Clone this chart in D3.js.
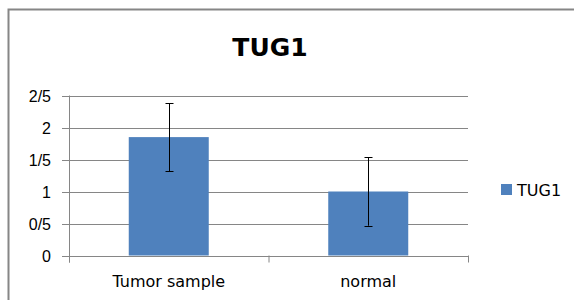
<!DOCTYPE html>
<html>
<head>
<meta charset="utf-8">
<script src="https://cdn.jsdelivr.net/npm/d3@7"></script>
<style>
	body { margin: 0; background: #fff; }
	svg { display: block; font-family: "DejaVu Sans", sans-serif; }
</style>
</head>
<body>
<div id="chart"></div>
<script>
// data
const categories = ["Tumor sample", "normal"];
const values = [1.85, 1.0];
const errors = [0.53, 0.535];
const tickValues = [0, 0.5, 1, 1.5, 2, 2.5];
const tickLabels = ["0", "0/5", "1", "1/5", "2", "2/5"];
const seriesName = "TUG1";

const width = 574, height = 300;
const plot = { left: 69, right: 468, top: 95.5, bottom: 255.5 };
const barColor = "#4f81bd";

const svg = d3.select("#chart").append("svg")
	.attr("width", width).attr("height", height);

// outer frame (runs off the right and bottom)
svg.append("rect")
	.attr("x", 8.5).attr("y", 9.5)
	.attr("width", 700).attr("height", 400)
	.attr("fill", "none").attr("stroke", "#868686").attr("stroke-width", 2);

svg.append("text")
	.attr("x", 270).attr("y", 56)
	.attr("text-anchor", "middle")
	.attr("font-size", 25).attr("font-weight", "bold")
	.text(seriesName);

const x = d3.scaleBand().domain(categories).range([plot.left, plot.right]);
const y = d3.scaleLinear().domain([0, 2.5]).range([plot.bottom, plot.top]);

// gridlines + y axis
const yAxis = svg.append("g")
	.attr("transform", `translate(${plot.left},0)`)
	.call(d3.axisLeft(y).tickValues(tickValues)
		.tickFormat((d, i) => tickLabels[i])
		.tickSize(7).tickPadding(11));
yAxis.select(".domain").remove();
yAxis.selectAll(".tick line").attr("stroke", "#868686");
yAxis.selectAll(".tick text").attr("font-size", 16).attr("fill", "#000")
	.attr("font-family", "inherit");

svg.append("g").selectAll("line").data(tickValues).join("line")
	.attr("x1", plot.left).attr("x2", plot.right)
	.attr("y1", d => Math.round(y(d)) + 0.5).attr("y2", d => Math.round(y(d)) + 0.5)
	.attr("stroke", "#868686");
yAxis.selectAll(".tick").attr("transform", d => `translate(0,${Math.round(y(d)) + 0.5})`);

// vertical axis line
svg.append("line")
	.attr("x1", plot.left + 0.5).attr("x2", plot.left + 0.5)
	.attr("y1", plot.top).attr("y2", plot.bottom + 7)
	.attr("stroke", "#868686");

// category ticks on x axis
svg.append("g").selectAll("line").data([plot.left, plot.left + x.bandwidth(), plot.right]).join("line")
	.attr("x1", d => d + 0.5).attr("x2", d => d + 0.5)
	.attr("y1", plot.bottom).attr("y2", plot.bottom + 7)
	.attr("stroke", "#868686");

// bars
const barW = 80;
svg.append("g").selectAll("rect").data(values).join("rect")
	.attr("x", (d, i) => x(categories[i]) + x.bandwidth() / 2 - barW / 2)
	.attr("y", d => y(d))
	.attr("width", barW)
	.attr("height", d => y(0) - y(d))
	.attr("fill", barColor);

// error bars
const eb = svg.append("g").attr("stroke", "#000").attr("stroke-width", 1);
values.forEach((v, i) => {
	const cx = Math.round(x(categories[i]) + x.bandwidth() / 2) + 0.5;
	const y1 = y(v + errors[i]), y2 = y(v - errors[i]);
	eb.append("line").attr("x1", cx).attr("x2", cx).attr("y1", y1).attr("y2", y2);
	[y1, y2].forEach(yy => eb.append("line")
		.attr("x1", cx - 4).attr("x2", cx + 4)
		.attr("y1", Math.round(yy) + 0.5).attr("y2", Math.round(yy) + 0.5));
});

// x labels
svg.append("g").selectAll("text").data(categories).join("text")
	.attr("x", d => x(d) + x.bandwidth() / 2)
	.attr("y", 287)
	.attr("text-anchor", "middle")
	.attr("font-size", 16)
	.text(d => d);

// legend
svg.append("rect")
	.attr("x", 501).attr("y", 184).attr("width", 11).attr("height", 11)
	.attr("fill", barColor);
svg.append("text")
	.attr("x", 517).attr("y", 196)
	.attr("font-size", 16)
	.text(seriesName);
</script>
</body>
</html>
